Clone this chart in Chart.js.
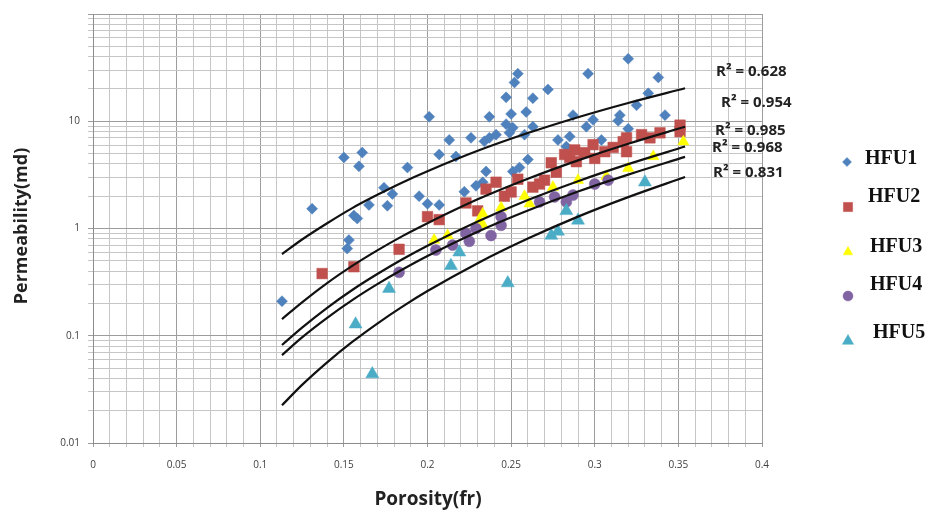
<!DOCTYPE html>
<html><head><meta charset="utf-8">
<script src="https://cdn.jsdelivr.net/npm/chart.js@4.4.0/dist/chart.umd.min.js"></script>
<style>html,body{margin:0;padding:0;background:#fff;}canvas{display:block;}</style>
</head><body>
<canvas id="c" width="931" height="516"></canvas>
<script>
const seriesNames = ['HFU1','HFU2','HFU3','HFU4','HFU5'];
const hfu1X = [0.113,0.131,0.150,0.161,0.159,0.153,0.152,0.156,0.158,0.165,0.174,0.176,0.179,0.188,0.195,0.200,0.207,0.201,0.207,0.213,0.217,0.222,0.226,0.229,0.234,0.235,0.237,0.241,0.237,0.247,0.252,0.254,0.250,0.247,0.251,0.249,0.259,0.263,0.263,0.258,0.260,0.255,0.251,0.272,0.278,0.285,0.287,0.296,0.299,0.295,0.304,0.315,0.314,0.320,0.320,0.325,0.332,0.338,0.342,0.283,0.233];
const hfu1Y = [0.21,1.53,4.6,5.1,3.8,0.78,0.65,1.32,1.24,1.66,2.4,1.63,2.1,3.7,2.0,1.7,1.66,11.0,4.9,6.7,4.7,2.2,7.0,2.5,6.5,3.4,7.0,7.5,11.0,16.7,23.0,27.8,11.7,9.4,8.7,7.8,12.2,16.4,8.9,7.5,4.4,3.7,3.4,19.8,6.7,7.2,11.4,27.8,10.3,8.9,6.7,11.4,10.1,38.2,8.5,14.1,18.2,25.6,11.4,5.8,2.7];
const hfu2X = [0.137,0.156,0.183,0.200,0.207,0.223,0.230,0.235,0.241,0.246,0.250,0.254,0.263,0.270,0.274,0.277,0.285,0.288,0.289,0.294,0.299,0.300,0.311,0.317,0.319,0.328,0.339,0.351,0.351,0.319,0.267,0.282,0.306,0.333];
const hfu2Y = [0.38,0.44,0.64,1.29,1.21,1.73,1.46,2.33,2.7,2.0,2.19,2.88,2.43,2.82,4.1,3.35,4.6,5.4,4.2,5.1,6.05,4.5,5.7,6.45,5.2,7.5,7.8,9.2,8.0,7.0,2.6,4.9,5.2,7.0];
const hfu3X = [0.204,0.212,0.231,0.233,0.233,0.244,0.258,0.261,0.275,0.290,0.307,0.320,0.335,0.353];
const hfu3Y = [0.78,0.86,1.19,1.37,1.09,1.56,2.0,1.70,2.43,2.82,3.07,3.64,4.7,6.45];
const hfu4X = [0.183,0.205,0.215,0.225,0.223,0.229,0.238,0.244,0.244,0.267,0.276,0.283,0.287,0.300,0.308];
const hfu4Y = [0.39,0.63,0.70,0.76,0.90,1.0,0.86,1.07,1.29,1.77,1.97,1.77,2.05,2.6,2.82];
const hfu5X = [0.157,0.167,0.177,0.214,0.219,0.248,0.274,0.278,0.283,0.290,0.330];
const hfu5Y = [0.128,0.044,0.275,0.45,0.60,0.31,0.86,0.94,1.46,1.19,2.7];
const trendX = [0.113,0.125,0.14,0.155,0.17,0.185,0.2,0.23,0.26,0.29,0.32,0.354];
const trend1Y = [0.577,0.790,1.12,1.55,2.06,2.69,3.42,5.30,7.76,10.9,14.8,20.3];
const trend2Y = [0.143,0.205,0.310,0.448,0.625,0.849,1.12,1.87,2.91,4.32,6.17,8.89];
const trend3Y = [0.082,0.119,0.182,0.267,0.376,0.516,0.690,1.16,1.84,2.76,3.98,5.81];
const trend4Y = [0.066,0.0966,0.147,0.215,0.303,0.415,0.555,0.933,1.47,2.21,3.18,4.65];
const trend5Y = [0.0225,0.0348,0.0565,0.0875,0.130,0.187,0.261,0.475,0.805,1.29,1.96,3.02];
const r2Labels = ['R\u00B2 = 0.628','R\u00B2 = 0.954','R\u00B2 = 0.985','R\u00B2 = 0.968','R\u00B2 = 0.831'];
const xTickLabels = ['0','0.05','0.1','0.15','0.2','0.25','0.3','0.35','0.4'];
const yTickLabels = ['0.01','0.1','1','10'];
const xTitle = 'Porosity(fr)';
const yTitle = 'Permeability(md)';

const pts = (xs, ys) => xs.map((x, i) => ({x: x, y: ys[i]}));
const styles = [
  {color:'#4F81BD', shape:'rectRot', r:5.5},
  {color:'#C0504D', shape:'rect', r:7.5},
  {color:'#FFFF00', shape:'triangle', r:6.5},
  {color:'#8064A2', shape:'circle', r:5.5},
  {color:'#4BACC6', shape:'triangle', r:7.5}
];
const seriesX = [hfu1X,hfu2X,hfu3X,hfu4X,hfu5X];
const seriesY = [hfu1Y,hfu2Y,hfu3Y,hfu4Y,hfu5Y];
const datasets = [];
[trend1Y,trend2Y,trend3Y,trend4Y,trend5Y].forEach((ty, i) => {
  datasets.push({label:'trend'+(i+1), data:pts(trendX, ty), showLine:true, pointRadius:0,
    borderColor:'#111', borderWidth:2.2, cubicInterpolationMode:'monotone', fill:false, order:0});
});
seriesNames.forEach((n, i) => {
  const s = styles[i];
  datasets.push({label:n, data:pts(seriesX[i], seriesY[i]), showLine:false,
    pointStyle:s.shape, pointRadius:s.r, pointHoverRadius:s.r,
    backgroundColor:s.color, borderColor:s.color, borderWidth:0.5, order:5-i+1});
});

const isDecade = v => { const e = Math.log10(v); return Math.abs(e - Math.round(e)) < 1e-9; };
const isMajorX = v => Math.abs(v*20 - Math.round(v*20)) < 1e-6;

const overlay = {
  id:'overlay',
  afterDraw(chart) {
    const ctx = chart.ctx;
    ctx.save();
    ctx.font = 'bold 15px "Open Sans"';
    ctx.fillStyle = '#222';
    ctx.textAlign = 'left';
    ctx.textBaseline = 'middle';
    const r2Pos = [[716,72],[721,103],[715,131],[712,148],[713,173]];
    r2Labels.forEach((t, i) => ctx.fillText(t, r2Pos[i][0], r2Pos[i][1]));
    const mk = [[847,162],[848,207],[848,252],[848,296],[848,341]];
    const tx = [[865,159],[868,197],[870,247],[870,285],[873,333]];
    const lr = [4.5,6.5,5.5,5,6.5];
    seriesNames.forEach((n, i) => {
      const s = styles[i];
      ctx.fillStyle = s.color; ctx.strokeStyle = s.color; ctx.lineWidth = 0.5;
      Chart.helpers.drawPoint(ctx, {pointStyle:s.shape, radius:lr[i], borderWidth:0.5}, mk[i][0], mk[i][1]);
      ctx.fillStyle = '#111';
      ctx.font = 'bold 20px "Liberation Serif"';
      ctx.textBaseline = 'middle';
      ctx.fillText(n, tx[i][0], tx[i][1]);
    });
    ctx.fillStyle = '#222';
    ctx.textAlign = 'center';
    ctx.textBaseline = 'middle';
    ctx.font = 'bold 19px "Open Sans"';
    ctx.fillText(xTitle, 428, 500);
    ctx.font = 'bold 18px "Open Sans"';
    ctx.translate(22, 226);
    ctx.rotate(-Math.PI/2);
    ctx.fillText(yTitle, 0, 0);
    ctx.restore();
  }
};

new Chart(document.getElementById('c'), {
  type:'scatter',
  data:{datasets},
  options:{
    responsive:false, animation:false,
    layout:{padding:{left:0, right:169, top:10, bottom:28}},
    plugins:{legend:{display:false}, tooltip:{enabled:false}},
    scales:{
      x:{type:'linear', min:0, max:0.4,
        afterFit(s){ s.height = 45; },
        ticks:{stepSize:0.01, autoSkip:false, maxRotation:0, padding:12, color:'#404040',
          font:{family:'"Open Sans"', size:10},
          callback(v){ return isMajorX(v) ? xTickLabels[Math.round(v*20)] : ''; }},
        grid:{color:ctx => (ctx.tick && isMajorX(ctx.tick.value)) ? '#9c9c9c' : '#c6c6c6', lineWidth:1, tickLength:4, drawTicks:true},
        border:{color:'#8c8c8c'}
      },
      y:{type:'logarithmic', min:0.01, max:100,
        afterFit(s){ s.width = 93; },
        afterBuildTicks(s){
          const t = [];
          for (let e = -2; e <= 1; e++) for (let m = 1; m <= 9; m++) t.push({value: Number((m*Math.pow(10,e)).toPrecision(3))});
          t.push({value:100});
          s.ticks = t;
        },
        ticks:{autoSkip:false, padding:8, color:'#404040', font:{family:'"Open Sans"', size:10},
          callback(v){ if (!isDecade(v)) return ''; const i = Math.round(Math.log10(v)) + 2; return yTickLabels[i] !== undefined ? yTickLabels[i] : ''; }},
        grid:{color:ctx => (ctx.tick && isDecade(ctx.tick.value)) ? '#9c9c9c' : '#c6c6c6', lineWidth:1, tickLength:5, drawTicks:true},
        border:{color:'#8c8c8c'}
      }
    }
  },
  plugins:[overlay]
});
</script>
</body></html>
